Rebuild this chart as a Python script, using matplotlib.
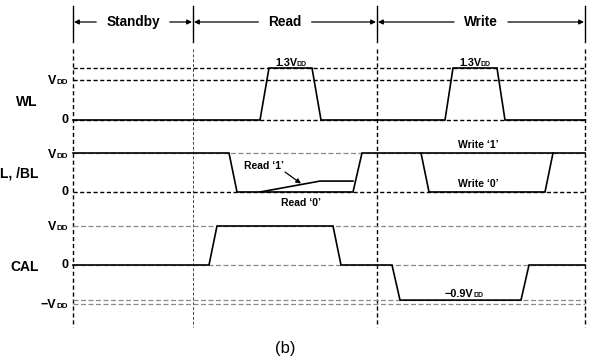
import numpy as np
import matplotlib
matplotlib.use("Agg")
import matplotlib.pyplot as plt

plt.rcParams['font.family'] = ['Liberation Sans', 'DejaVu Sans']

# ---------------- data ----------------
phase_names = ['Standby', 'Read', 'Write']
phase_bounds = [73, 193, 377, 585]          # time axis (arbitrary units)

signal_names = ['WL', 'L, /BL', 'CAL']

# WL waveform (levels in units of VDD)
wl_t = [73, 260, 269, 312, 321, 445, 453, 497, 505, 585]
wl_v = [0, 0, 1.3, 1.3, 0, 0, 1.3, 1.3, 0, 0]

# BL waveform: main path (Read '0' / Write '1')
bl_t = [73, 229, 237, 353, 362, 585]
bl_v = [1, 1, 0, 0, 1, 1]
# BL: Read '1' branch
bl_read1_t = [260, 320, 353]
bl_read1_v = [0, 0.28, 0.28]
# BL: Write '0' branch
bl_write0_t = [421, 429, 545, 553]
bl_write0_v = [1, 0, 0, 1]

# CAL waveform
cal_t = [73, 209, 217, 333, 341, 392, 400, 521, 529, 585]
cal_v = [0, 0, 1, 1, 0, 0, -0.9, -0.9, 0, 0]

# reference levels per track
wl_levels = [1.3, 1.0, 0.0]
bl_levels = [1.0, 0.0]
cal_levels = [1.0, 0.0, -0.9, -1.0]

# ---------------- layout ----------------
W, H = 589, 362
fig = plt.figure(figsize=(W / 100, H / 100), dpi=100)
ax = fig.add_axes([0, 0, 1, 1])
ax.set_xlim(0, W)
ax.set_ylim(H, 0)
ax.axis('off')

tracks = {  # zero line position, pixels per VDD
    'WL': (120, 40),
    'BL': (192, 39),
    'CAL': (265, 39),
}


def ymap(track, v):
    z, s = tracks[track]
    return z - np.asarray(v, dtype=float) * s


renderer = fig.canvas.get_renderer()
inv = ax.transData.inverted()


def text_width(t):
    bb = t.get_window_extent(renderer=renderer).transformed(inv)
    return abs(bb.x1 - bb.x0)


def vdd(x, y, prefix='', size=9, ha='right', vcenter=True):
    """Draw prefix + 'V' with a small 'DD' on the same baseline."""
    yb = y + 0.36 * size * 100 / 72 if vcenter else y
    t1 = ax.text(0, yb, prefix + 'V', fontsize=size, fontweight='bold',
                 ha='left', va='baseline')
    t2 = ax.text(0, yb, 'DD', fontsize=size * 0.64, fontweight='bold',
                 ha='left', va='baseline')
    w1, w2 = text_width(t1), text_width(t2)
    tot = w1 + w2
    left = x - tot if ha == 'right' else x - tot / 2
    t1.set_x(left)
    t2.set_x(left + w1 - 0.3)


t0, t1 = phase_bounds[0], phase_bounds[-1]
BLACK_DASH = dict(color='black', lw=1.0, dashes=(3.0, 1.8))
GRAY_DASH = dict(color='#8a8a8a', lw=0.9, dashes=(4.0, 2.0))

# vertical phase boundaries
for i, xb in enumerate(phase_bounds):
    ax.plot([xb, xb], [6, 42], color='black', lw=1.0)
    if i == 1:
        ax.plot([xb, xb], [49, 327], color='#444444', lw=0.7, dashes=(3.0, 2.0))
    else:
        ax.plot([xb, xb], [49, 327], color='black', lw=1.0, dashes=(3.0, 2.0))

# horizontal reference levels
for lv in wl_levels:
    ax.plot([t0, t1], [ymap('WL', lv)] * 2, **BLACK_DASH)
ax.plot([t0, t1], [ymap('BL', 1.0)] * 2, **GRAY_DASH)
ax.plot([t0, t1], [ymap('BL', 0.0)] * 2, **BLACK_DASH)
for lv in cal_levels:
    ax.plot([t0, t1], [ymap('CAL', lv)] * 2, **GRAY_DASH)

# waveforms
SIG = dict(color='black', lw=1.2, solid_joinstyle='miter')
ax.plot(wl_t, ymap('WL', wl_v), **SIG)
ax.plot(bl_t, ymap('BL', bl_v), **SIG)
ax.plot(bl_read1_t, ymap('BL', bl_read1_v), **SIG)
ax.plot(bl_write0_t, ymap('BL', bl_write0_v), **SIG)
ax.plot(cal_t, ymap('CAL', cal_v), **SIG)

# phase header texts and arrows
yh = 22
for k, name in enumerate(phase_names):
    xc = (phase_bounds[k] + phase_bounds[k + 1]) / 2
    t = ax.text(xc, yh, name, ha='center', va='center',
                fontsize=9.8, fontweight='bold')
    hw = text_width(t) / 2
    ap = dict(arrowstyle='-|>', color='black', lw=0.9, mutation_scale=7,
              shrinkA=0, shrinkB=0)
    ax.annotate('', xy=(phase_bounds[k] + 1, yh), xytext=(xc - hw - 10, yh), arrowprops=ap)
    ax.annotate('', xy=(phase_bounds[k + 1] - 1, yh), xytext=(xc + hw + 10, yh), arrowprops=ap)

# signal names
LBL = dict(fontsize=10, fontweight='bold', va='center')
ax.text(27, 102, signal_names[0], ha='center', **LBL)
ax.text(0, 173, signal_names[1], ha='left', **LBL)
ax.text(25, 267, signal_names[2], ha='center', **LBL)

# level labels
LV = dict(fontsize=9, fontweight='bold', ha='right', va='center')
xl_lab = 68
vdd(xl_lab, ymap('WL', 1.0))
ax.text(xl_lab, ymap('WL', 0.0), '0', **LV)
vdd(xl_lab, ymap('BL', 1.0))
ax.text(xl_lab, ymap('BL', 0.0), '0', **LV)
vdd(xl_lab, ymap('CAL', 1.0))
ax.text(xl_lab, ymap('CAL', 0.0), '0', **LV)
vdd(xl_lab, ymap('CAL', -1.0), prefix='\u2212')

# annotations on waveforms
SM = dict(fontsize=7.5, fontweight='bold', ha='center')
vdd(291, ymap('WL', 1.3) - 2.5, prefix='1.3', size=7.8, ha='center', vcenter=False)
vdd(475, ymap('WL', 1.3) - 2.5, prefix='1.3', size=7.8, ha='center', vcenter=False)
ax.text(478, 145, 'Write \u20181\u2019', va='center', **SM)
ax.text(478, 184, 'Write \u20180\u2019', va='center', **SM)
ax.text(301, 203, 'Read \u20180\u2019', va='center', **SM)
ax.text(264, 166, 'Read \u20181\u2019', va='center', **SM)
xa = 301
ax.annotate('', xy=(xa, ymap('BL', np.interp(xa, bl_read1_t, bl_read1_v)) - 1),
            xytext=(285, 172),
            arrowprops=dict(arrowstyle='-|>', color='black', lw=0.9,
                            mutation_scale=7, shrinkA=0, shrinkB=0))
vdd(464, 293, prefix='\u22120.9', size=7.8, ha='center')

# caption
ax.text(285, 349, '(b)', ha='center', va='center', fontsize=12)

fig.savefig('out.png', dpi=100)
